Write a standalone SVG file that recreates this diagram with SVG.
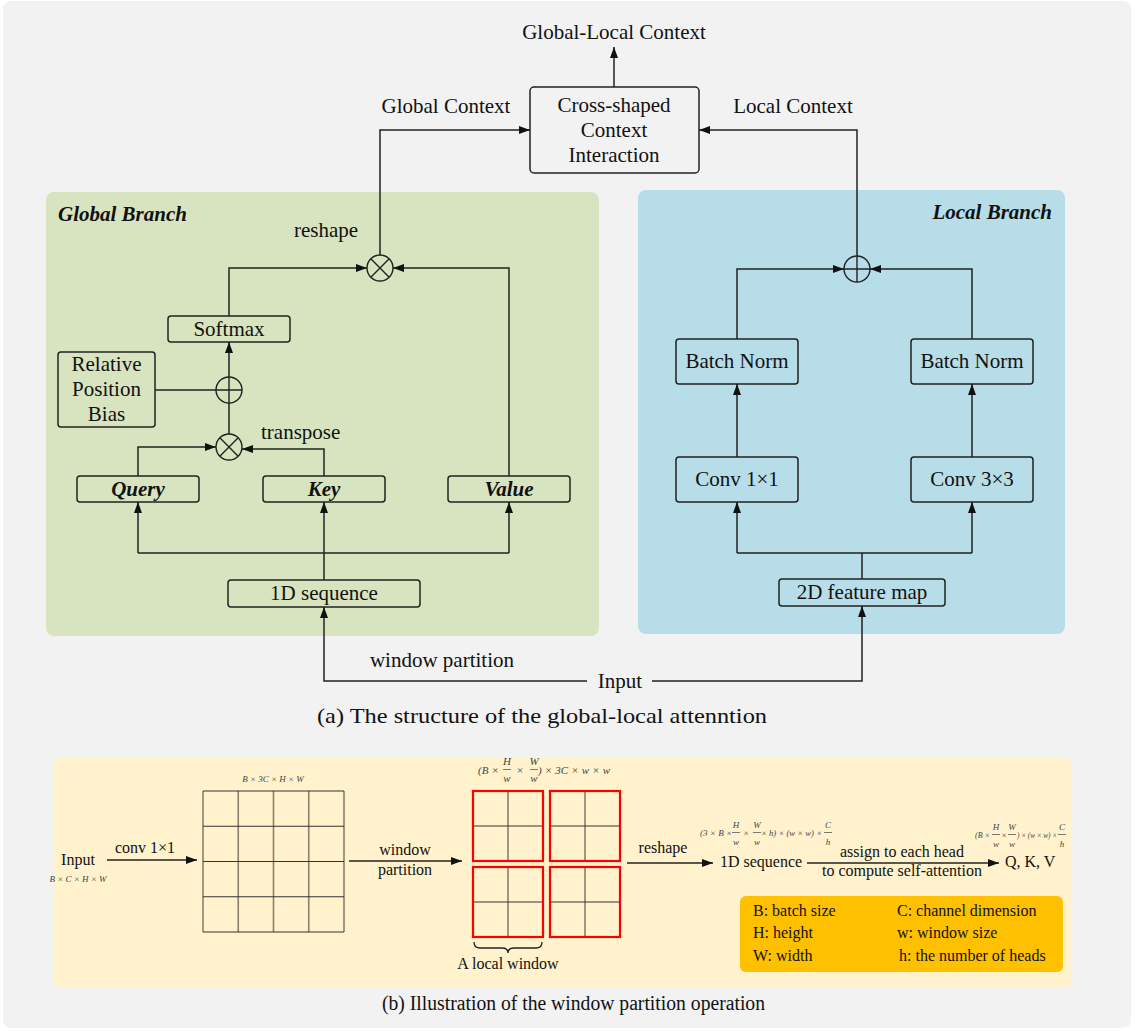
<svg xmlns="http://www.w3.org/2000/svg" width="1135" height="1031" viewBox="0 0 1135 1031">
  <defs>
    <marker id="arr" viewBox="0 0 11 8" refX="11" refY="4" markerWidth="11" markerHeight="8" markerUnits="userSpaceOnUse" orient="auto">
      <path d="M0,0 L11,4 L0,8 z" fill="#111"/>
    </marker>
    <style>
      .t { font-family: "Liberation Serif", "Times New Roman", serif; fill: #111; }
      .lg { font-size: 21px; }
      .md { font-size: 16px; }
      .leg { font-size: 16px; }
      .bi { font-weight: bold; font-style: italic; }
      .tiny { font-size: 9px; font-style: italic; fill: #444; }
      .fr { font-size: 11px; font-style: italic; fill: #444; }
      .mid { text-anchor: middle; }
      .box { fill: none; stroke: #222; stroke-width: 1.5; }
      .ln { fill: none; stroke: #222; stroke-width: 1.5; }
      .arr { fill: none; stroke: #222; stroke-width: 1.5; marker-end: url(#arr); }
      .op { fill: none; stroke: #222; stroke-width: 1.4; }
      .gv { stroke: #8a7f6c; stroke-width: 1.6; }
      .gh { stroke: #333; stroke-width: 1.1; }
      .win { fill: none; stroke: #ff0000; stroke-width: 2.2; }
      .bar { stroke: #444; stroke-width: 0.7; }
    </style>
  </defs>

  <!-- page background -->
  <rect x="0" y="0" width="1135" height="1031" fill="#ffffff"/>
  <rect x="3" y="1" width="1128" height="1027" rx="8" fill="#f2f2f2"/>

  <!-- panels -->
  <rect id="global-panel" x="46" y="192" width="553" height="444" rx="8" fill="#d8e4c0"/>
  <rect id="local-panel" x="638" y="190" width="427" height="444" rx="8" fill="#b7dde8"/>
  <rect id="partition-panel" x="53" y="757" width="1019" height="230" rx="8" fill="#fff2cc"/>

  <text class="t lg bi" x="58" y="221">Global Branch</text>
  <text class="t lg bi" x="1052" y="219" text-anchor="end">Local Branch</text>

  <!-- top output -->
  <text id="global-local-context" class="t lg mid" x="614" y="39">Global-Local Context</text>
  <g id="cross-interaction">
    <rect class="box" x="530" y="87" width="169" height="86" rx="4"/>
    <text class="t lg mid" x="614" y="112">Cross-shaped</text>
    <text class="t lg mid" x="614" y="137">Context</text>
    <text class="t lg mid" x="614" y="162">Interaction</text>
  </g>
  <text class="t lg mid" x="446" y="113">Global Context</text>
  <text class="t lg mid" x="793" y="113">Local Context</text>

  <!-- global branch nodes -->
  <g id="mul-reshape">
    <circle class="op" cx="380" cy="268" r="13"/>
    <path class="op" d="M370.8,258.8 L389.2,277.2 M389.2,258.8 L370.8,277.2"/>
  </g>
  <text class="t lg mid" x="326" y="237">reshape</text>
  <g id="softmax">
    <rect class="box" x="168" y="316" width="122" height="26" rx="3"/>
    <text class="t lg mid" x="229" y="336">Softmax</text>
  </g>
  <g id="rel-pos-bias">
    <rect class="box" x="58" y="352" width="97" height="75" rx="3"/>
    <text class="t lg mid" x="106.5" y="371">Relative</text>
    <text class="t lg mid" x="106.5" y="396">Position</text>
    <text class="t lg mid" x="106.5" y="421">Bias</text>
  </g>
  <g id="add-bias">
    <circle class="op" cx="229" cy="390" r="13"/>
    <path class="op" d="M216,390 H242 M229,377 V403"/>
  </g>
  <g id="mul-qk">
    <circle class="op" cx="229" cy="447" r="13"/>
    <path class="op" d="M219.8,437.8 L238.2,456.2 M238.2,437.8 L219.8,456.2"/>
  </g>
  <text class="t lg" x="261" y="439">transpose</text>
  <g id="query">
    <rect class="box" x="77" y="476" width="122" height="26" rx="3"/>
    <text class="t lg mid bi" x="138" y="496">Query</text>
  </g>
  <g id="key">
    <rect class="box" x="263" y="476" width="122" height="26" rx="3"/>
    <text class="t lg mid bi" x="324" y="496">Key</text>
  </g>
  <g id="value">
    <rect class="box" x="448" y="476" width="122" height="26" rx="3"/>
    <text class="t lg mid bi" x="509" y="496">Value</text>
  </g>
  <g id="seq-1d">
    <rect class="box" x="228" y="580" width="192" height="27" rx="3"/>
    <text class="t lg mid" x="324" y="600">1D sequence</text>
  </g>

  <!-- local branch nodes -->
  <g id="add-local">
    <circle class="op" cx="857" cy="269" r="13"/>
    <path class="op" d="M844,269 H870 M857,256 V282"/>
  </g>
  <g id="bn-left">
    <rect class="box" x="676" y="339" width="122" height="45" rx="3"/>
    <text class="t lg mid" x="737" y="368">Batch Norm</text>
  </g>
  <g id="bn-right">
    <rect class="box" x="911" y="339" width="122" height="45" rx="3"/>
    <text class="t lg mid" x="972" y="368">Batch Norm</text>
  </g>
  <g id="conv1">
    <rect class="box" x="676" y="457" width="122" height="45" rx="3"/>
    <text class="t lg mid" x="737" y="486">Conv 1×1</text>
  </g>
  <g id="conv3">
    <rect class="box" x="911" y="457" width="122" height="45" rx="3"/>
    <text class="t lg mid" x="972" y="486">Conv 3×3</text>
  </g>
  <g id="feat-2d">
    <rect class="box" x="779" y="579" width="166" height="27" rx="3"/>
    <text class="t lg mid" x="862" y="599">2D feature map</text>
  </g>

  <text class="t lg mid" x="442" y="667">window partition</text>
  <text id="input" class="t lg mid" x="620" y="688">Input</text>

  <!-- connectors of the attention structure -->
  <g id="connectors">
    <path class="arr" d="M614,87 V47"/>
    <path class="arr" d="M380,255 V130 H530"/>
    <path class="arr" d="M857,256 V130 H699"/>
    <path class="arr" d="M229,316 V268 H367"/>
    <path class="arr" d="M509,476 V268 H393"/>
    <path class="arr" d="M229,377 V342"/>
    <path class="ln" d="M155,390 H216"/>
    <path class="ln" d="M229,434 V403"/>
    <path class="arr" d="M138,476 V447 H216"/>
    <path class="arr" d="M324,476 V449 H242"/>
    <path class="arr" d="M324,580 V502"/>
    <path class="arr" d="M138,553 V502"/>
    <path class="arr" d="M509,553 V502"/>
    <path class="ln" d="M138,553 H509"/>
    <path class="arr" d="M587,681 H324 V607"/>
    <path class="arr" d="M652,681 H862 V606"/>
    <path class="arr" d="M737,339 V269 H844"/>
    <path class="arr" d="M972,339 V269 H870"/>
    <path class="arr" d="M737,457 V384"/>
    <path class="arr" d="M972,457 V384"/>
    <path class="arr" d="M737,553 V502"/>
    <path class="arr" d="M972,553 V502"/>
    <path class="ln" d="M737,553 H972 M862,553 V579"/>
  </g>

  <text class="t" style="font-size:22px" x="317" y="723" textLength="450" lengthAdjust="spacingAndGlyphs">(a) The structure of the global-local attenntion</text>

  <!-- window partition illustration -->
  <text class="t md mid" x="78" y="865">Input</text>
  <text class="t tiny mid" x="78" y="882">B × C × H × W</text>
  <text class="t md mid" x="145" y="853">conv 1×1</text>
  <text class="t tiny mid" x="273" y="782">B × 3C × H × W</text>

  <g id="feature-grid">
    <path class="gv" d="M203,791 V932 M238.25,791 V932 M273.5,791 V932 M308.75,791 V932 M344,791 V932"/>
    <path class="gh" d="M203,791 H344 M203,826.25 H344 M203,861.5 H344 M203,896.75 H344 M203,932 H344"/>
  </g>

  <text class="t md mid" x="405" y="855">window</text>
  <text class="t md mid" x="405" y="875">partition</text>

  <g id="windows">
    <path class="gv" d="M508,791 V861 M585,791 V861 M508,867 V937 M585,867 V937"/>
    <path class="gh" d="M473,826 H543 M550,826 H620 M473,902 H543 M550,902 H620"/>
    <rect class="win" x="473" y="791" width="70" height="70"/>
    <rect class="win" x="550" y="791" width="70" height="70"/>
    <rect class="win" x="473" y="867" width="70" height="70"/>
    <rect class="win" x="550" y="867" width="70" height="70"/>
    <path class="ln" d="M474,942 Q474,948 480,948 H502 Q508,948 508,953 Q508,948 514,948 H536 Q542,948 542,942" style="stroke-width:1.3"/>
  </g>
  <text class="t md mid" x="508" y="969">A local window</text>

  <!-- (B × H/w × W/w) × 3C × w × w -->
  <g id="formula-windows">
    <text class="t fr" x="478" y="774" textLength="21" lengthAdjust="spacing">(B ×</text>
    <text class="t fr mid" x="507" y="765">H</text>
    <line class="bar" x1="503" y1="769.5" x2="511" y2="769.5"/>
    <text class="t fr mid" x="507" y="782">w</text>
    <text class="t fr mid" x="520" y="774">×</text>
    <text class="t fr mid" x="534" y="765">W</text>
    <line class="bar" x1="530" y1="769.5" x2="538" y2="769.5"/>
    <text class="t fr mid" x="534" y="782">w</text>
    <text class="t fr" x="538" y="774" textLength="72" lengthAdjust="spacing">) × 3C × w × w</text>
  </g>

  <text class="t md mid" x="663" y="853">reshape</text>
  <text class="t md mid" x="761" y="867">1D sequence</text>

  <!-- (3 × B × H/w × W/w × h) × (w × w) × C/h -->
  <g id="formula-seq">
    <text class="t tiny" x="700" y="836" textLength="32" lengthAdjust="spacing">(3 × B ×</text>
    <text class="t tiny mid" x="736" y="828">H</text>
    <line class="bar" x1="732" y1="832.5" x2="740" y2="832.5"/>
    <text class="t tiny mid" x="736" y="845">w</text>
    <text class="t tiny mid" x="746" y="836">×</text>
    <text class="t tiny mid" x="757" y="828">W</text>
    <line class="bar" x1="753" y1="832.5" x2="761" y2="832.5"/>
    <text class="t tiny mid" x="757" y="845">w</text>
    <text class="t tiny" x="761" y="836" textLength="61" lengthAdjust="spacingAndGlyphs">× h) × (w × w) ×</text>
    <text class="t tiny mid" x="828" y="828">C</text>
    <line class="bar" x1="824" y1="832.5" x2="832" y2="832.5"/>
    <text class="t tiny mid" x="828" y="845">h</text>
  </g>

  <text class="t md mid" x="902" y="857">assign to each head</text>
  <text class="t md mid" x="902" y="876">to compute self-attention</text>
  <text class="t md" x="1005" y="867">Q, K, V</text>

  <!-- (B × H/w × W/w) × (w × w) × C/h -->
  <g id="formula-heads">
    <text class="t tiny" x="975" y="838" textLength="15" lengthAdjust="spacingAndGlyphs">(B ×</text>
    <text class="t tiny mid" x="996" y="830">H</text>
    <line class="bar" x1="992" y1="834.5" x2="1000" y2="834.5"/>
    <text class="t tiny mid" x="996" y="847">w</text>
    <text class="t tiny mid" x="1004" y="838">×</text>
    <text class="t tiny mid" x="1012" y="830">W</text>
    <line class="bar" x1="1008" y1="834.5" x2="1016" y2="834.5"/>
    <text class="t tiny mid" x="1012" y="847">w</text>
    <text class="t tiny" x="1017" y="838" textLength="40" lengthAdjust="spacingAndGlyphs">) × (w × w) ×</text>
    <text class="t tiny mid" x="1062" y="830">C</text>
    <line class="bar" x1="1058" y1="834.5" x2="1066" y2="834.5"/>
    <text class="t tiny mid" x="1062" y="847">h</text>
  </g>

  <g id="partition-connectors">
    <path class="arr" d="M107,860 H197"/>
    <path class="arr" d="M349,861 H462"/>
    <path class="arr" d="M627,863 H713"/>
    <path class="arr" d="M807,863 H999"/>
  </g>

  <g id="legend">
    <rect x="740" y="896" width="323" height="76" rx="6" fill="#ffc000"/>
    <text class="t leg" x="753" y="916">B: batch size</text>
    <text class="t leg" x="753" y="938">H: height</text>
    <text class="t leg" x="753" y="961">W: width</text>
    <text class="t leg" x="897" y="916">C: channel dimension</text>
    <text class="t leg" x="897" y="938">w: window size</text>
    <text class="t leg" x="899" y="961">h: the number of heads</text>
  </g>

  <text class="t" style="font-size:20px" x="382" y="1010" textLength="383" lengthAdjust="spacingAndGlyphs">(b) Illustration of the window partition operation</text>
</svg>
